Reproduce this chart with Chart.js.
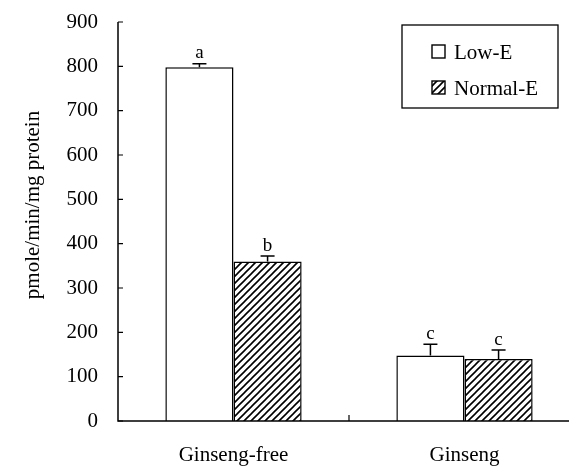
<!DOCTYPE html>
<html><head><meta charset="utf-8">
<script src="https://cdn.jsdelivr.net/npm/chart.js@4"></script>
<style>html,body{margin:0;padding:0;overflow:hidden;background:#fff}#wrap{width:580px;height:467px}</style>
</head><body><div id="wrap"><canvas id="c" width="580" height="467"></canvas></div>
<script>
const categories = ["Ginseng-free", "Ginseng"];
const lowE = [798, 148];
const normalE = [360, 140];
const lowErr = [8, 25];
const normalErr = [12, 20];
const lowLetters = ["a", "c"];
const normalLetters = ["b", "c"];
const yTicks = [0, 100, 200, 300, 400, 500, 600, 700, 800, 900];
const seriesNames = ["Low-E", "Normal-E"];
const yTitle = "pmole/min/mg protein";

const SERIF = "'Liberation Serif', 'DejaVu Serif', serif";

function hatch() {
  const s = 7;
  const p = document.createElement('canvas');
  p.width = s; p.height = s;
  const g = p.getContext('2d');
  g.fillStyle = '#fff'; g.fillRect(0, 0, s, s);
  g.strokeStyle = '#000'; g.lineWidth = 1.6;
  g.beginPath();
  g.moveTo(-1, s + 1); g.lineTo(s + 1, -1);
  g.moveTo(-1, 1); g.lineTo(1, -1);
  g.moveTo(s - 1, s + 1); g.lineTo(s + 1, s - 1);
  g.stroke();
  return g.createPattern(p, 'repeat');
}
const ctx0 = document.getElementById('c').getContext('2d');
const hatchPat = hatch();

const extras = {
  id: 'extras',
  afterDatasetsDraw(chart) {
    const ctx = chart.ctx;
    const y = chart.scales.y, x = chart.scales.x;
    const errs = [lowErr, normalErr];
    const letters = [lowLetters, normalLetters];
    ctx.save();
    ctx.strokeStyle = '#000'; ctx.fillStyle = '#000';
    chart.data.datasets.forEach((ds, di) => {
      chart.getDatasetMeta(di).data.forEach((bar, i) => {
        const v = ds.data[i];
        const top = y.getPixelForValue(v + errs[di][i]);
        const base = y.getPixelForValue(v);
        ctx.lineWidth = 1.5;
        ctx.beginPath();
        ctx.moveTo(bar.x, base); ctx.lineTo(bar.x, top);
        ctx.moveTo(bar.x - 7, top); ctx.lineTo(bar.x + 7, top);
        ctx.stroke();
        ctx.font = "19px " + SERIF;
        ctx.textAlign = 'center'; ctx.textBaseline = 'bottom';
        ctx.fillText(letters[di][i], bar.x, top - 1);
      });
    });
    // axes
    ctx.lineWidth = 1.5;
    ctx.beginPath();
    ctx.moveTo(x.left, y.getPixelForValue(900));
    ctx.lineTo(x.left, y.bottom);
    ctx.lineTo(x.right, y.bottom);
    ctx.stroke();
    ctx.lineWidth = 1.2;
    ctx.beginPath();
    yTicks.forEach(t => {
      const py = y.getPixelForValue(t);
      ctx.moveTo(x.left, py); ctx.lineTo(x.left + 5, py);
    });
    const mid = (x.getPixelForValue(0) + x.getPixelForValue(1)) / 2;
    ctx.moveTo(mid, y.bottom); ctx.lineTo(mid, y.bottom - 6);
    ctx.stroke();
    // y title
    ctx.save();
    ctx.translate(33, 205);
    ctx.rotate(-Math.PI / 2);
    ctx.font = "21px " + SERIF;
    ctx.textAlign = 'center'; ctx.textBaseline = 'middle';
    ctx.fillText(yTitle, 0, 0);
    ctx.restore();
    // legend
    const lx = 402, ly = 25, lw = 156, lh = 83;
    ctx.lineWidth = 1.3;
    ctx.strokeRect(lx, ly, lw, lh);
    ctx.font = "21px " + SERIF;
    ctx.textAlign = 'left'; ctx.textBaseline = 'middle';
    const fills = ['#fff', hatchPat];
    [52, 88].forEach((cy, k) => {
      ctx.fillStyle = fills[k];
      ctx.fillRect(432, cy - 7, 13, 13);
      ctx.strokeStyle = '#000';
      ctx.lineWidth = 1.4;
      ctx.strokeRect(432, cy - 7, 13, 13);
      ctx.fillStyle = '#000';
      ctx.fillText(seriesNames[k], 454, cy + 1);
    });
    ctx.restore();
  }
};

new Chart(ctx0, {
  type: 'bar',
  data: {
    labels: categories,
    datasets: [
      { label: seriesNames[0], data: lowE, backgroundColor: '#fff', borderColor: '#000', borderWidth: 1.5, borderSkipped: 'bottom' },
      { label: seriesNames[1], data: normalE, backgroundColor: hatchPat, borderColor: '#000', borderWidth: 1.5, borderSkipped: 'bottom' }
    ]
  },
  options: {
    responsive: false,
    animation: false,
    layout: { padding: { top: 22, left: 0, right: 0, bottom: 0 } },
    datasets: { bar: { barPercentage: 1, categoryPercentage: 0.59 } },
    plugins: { legend: { display: false }, tooltip: { enabled: false } },
    scales: {
      x: {
        grid: { display: false, drawTicks: false },
        border: { display: false },
        ticks: { color: '#000', font: { family: SERIF, size: 21 }, padding: 22 },
        afterFit(s) { s.height = 46; s.paddingLeft = 0; s.paddingRight = 0; }
      },
      y: {
        min: 0, max: 900,
        afterBuildTicks(s) { s.ticks = yTicks.map(v => ({ value: v })); },
        grid: { display: false, drawTicks: false },
        border: { display: false },
        ticks: { color: '#000', font: { family: SERIF, size: 21 }, padding: 20 },
        title: { display: false },
        afterFit(s) { s.width = 118; s.paddingTop = 0; s.paddingBottom = 0; }
      }
    }
  },
  plugins: [extras]
});
</script>
</body></html>
